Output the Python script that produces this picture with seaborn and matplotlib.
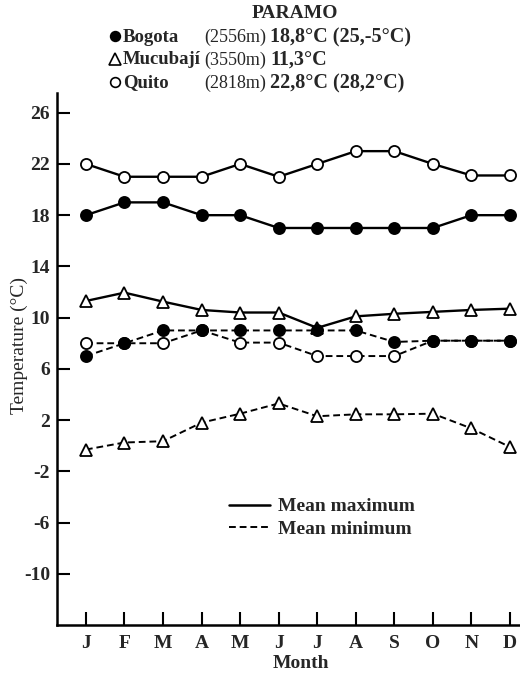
import matplotlib
matplotlib.use("Agg")
import matplotlib.pyplot as plt
import seaborn as sns
import numpy as np
import pandas as pd
from matplotlib.lines import Line2D

months = ["J", "F", "M", "A", "M", "J", "J", "A", "S", "O", "N", "D"]
bogota_max = [18, 19, 19, 18, 18, 17, 17, 17, 17, 17, 18, 18]
bogota_min = [7.0, 8.0, 9.0, 9.0, 9.0, 9.0, 9.0, 9.0, 8.1, 8.2, 8.2, 8.2]
mucubaji_max = [11.3, 11.95, 11.25, 10.6, 10.4, 10.4, 9.2, 10.1, 10.3, 10.45, 10.6, 10.7]
mucubaji_min = [-0.3, 0.25, 0.35, 1.8, 2.5, 3.3, 2.3, 2.45, 2.45, 2.5, 1.35, -0.1]
quito_max = [22, 21, 21, 21, 22, 21, 22, 23, 23, 22, 21.1, 21.1]
quito_min = [8.0, 8.0, 8.0, 9.0, 8.05, 8.05, 7.0, 7.0, 7.0, 8.2, 8.2, 8.2]
yticks = [26, 22, 18, 14, 10, 6, 2, -2, -6, -10]

sns.set_style("ticks")
plt.rcParams["font.family"] = ["Liberation Serif", "DejaVu Serif"]

fig = plt.figure(figsize=(5.2, 6.76), dpi=100)
ax = fig.add_axes([57 / 520, 51 / 676, 463 / 520, 532 / 676])

x = np.arange(len(months))
series = [
    (quito_max, "o", "white", "solid", 8),
    (bogota_max, "o", "black", "solid", 8),
    (mucubaji_max, "^", "white", "solid", 9),
    (quito_min, "o", "white", "dashed", 8),
    (bogota_min, "o", "black", "dashed", 8),
    (mucubaji_min, "^", "white", "dashed", 9),
]
for vals, mk, fc, ls, ms in series:
    df = pd.DataFrame({"x": x, "y": vals})
    sns.lineplot(data=df, x="x", y="y", ax=ax, color="black", marker=mk,
                 markerfacecolor=fc, markeredgecolor="black", markersize=ms,
                 markeredgewidth=1.3, linewidth=1.7 if ls == "solid" else 1.4,
                 sort=False, zorder=3)
    line = ax.lines[-1]
    if ls == "dashed":
        line.set_dashes((3.5, 2.0))

ax.set_xlim(-0.75, 11.26)
ax.set_ylim(-14, 27.54)
ax.set_xticks(x)
ax.set_xticklabels(months, fontsize=14, fontweight="bold")
ax.set_yticks(yticks)
ax.set_yticklabels([str(v) for v in yticks], fontsize=14, fontweight="bold")
ax.tick_params(axis="both", direction="in", length=9.5, width=1.5, color="black")
ax.tick_params(axis="x", pad=7)
ax.tick_params(axis="y", pad=5)
for s in ["top", "right"]:
    ax.spines[s].set_visible(False)
for s in ["left", "bottom"]:
    ax.spines[s].set_linewidth(1.8)
    ax.spines[s].set_color("black")

ax.set_xlabel("Month", fontsize=14, fontweight="bold")
ax.xaxis.set_label_coords(244 / 463, -0.056)
ax.set_ylabel("Temperature (°C)", fontsize=14)
ax.yaxis.set_label_coords(-0.063, 0.526)

handles = [Line2D([], [], color="black", lw=1.8),
           Line2D([], [], color="black", lw=1.4, dashes=(3.5, 2.0))]
leg = ax.legend(handles, ["Mean maximum", "Mean minimum"], frameon=False,
                loc="upper left", bbox_to_anchor=((221 - 57) / 463, (625 - 490) / 532),
                prop={"size": 14, "weight": "bold"}, handlelength=2.1,
                handletextpad=0.45, labelspacing=0.25, borderaxespad=0)

fig.text(295 / 520, 1 - 13 / 676, "PARAMO", ha="center", va="center",
         fontsize=14, fontweight="bold")
rows = [
    ("o", "black", "Bogota", "(2556m)", "18,8°C (25,-5°C)", 37),
    ("^", "white", "Mucubají", "(3550m)", "11,3°C", 60),
    ("o", "white", "Quito", "(2818m)", "22,8°C (28,2°C)", 83),
]
for mk, fc, name, alt, temp, ypx in rows:
    yf = 1 - ypx / 676
    fig.add_artist(Line2D([115 / 520], [yf + 0.002], marker=mk, markersize=7 if mk == "o" else 8,
                          markerfacecolor=fc, markeredgecolor="black", markeredgewidth=1.2,
                          linestyle="none", transform=fig.transFigure))
    fig.text(123 / 520, yf, name, ha="left", va="center", fontsize=13.5, fontweight="bold")
    fig.text(204 / 520, yf, alt, ha="left", va="center", fontsize=13)
    fig.text(270 / 520, yf, temp, ha="left", va="center", fontsize=14.5, fontweight="bold")

fig.savefig("out.png", dpi=100)
